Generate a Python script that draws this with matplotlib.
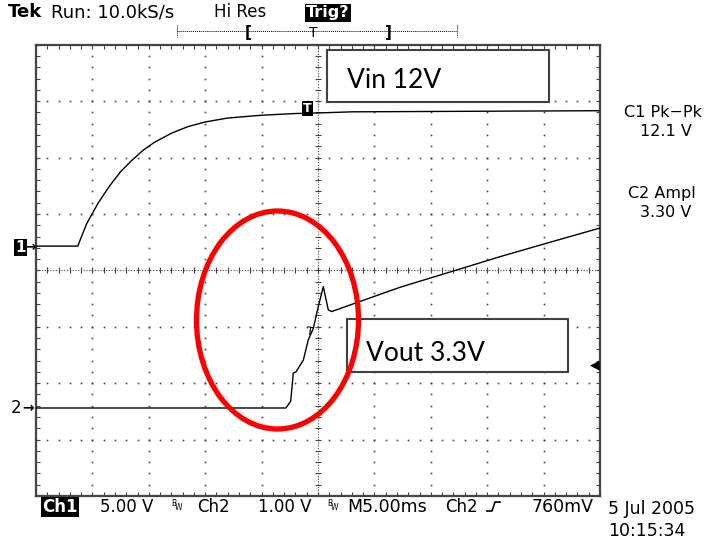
import numpy as np
import matplotlib
matplotlib.use('Agg')
import matplotlib.pyplot as plt
from matplotlib.patches import Rectangle, Ellipse
from matplotlib.lines import Line2D
from matplotlib.transforms import Affine2D

# Scope captures: time in ms, voltage in V
ch1_t = [-25.0, -21.3, -20.5, -19.5, -18.5, -17.5, -16.5, -15.5, -14.5, -13.0,
         -11.5, -10.0, -8.0, -5.0, -2.0, 0.0, 3.0, 25.0]
ch1_v = [0.0, 0.0, 2.0, 3.8, 5.3, 6.6, 7.6, 8.5, 9.2, 10.0,
         10.6, 11.0, 11.35, 11.6, 11.75, 11.8, 11.9, 12.0]
ch2_t = [-25.0, -2.84, -2.42, -2.19, -1.95, -1.30, -0.86, -0.42, 0.03, 0.47,
         0.91, 1.21, 7.27, 11.7, 16.1, 20.6, 25.0]
ch2_v = [0.0, 0.0, 0.12, 0.62, 0.64, 0.85, 1.21, 1.41, 1.80, 2.15,
         1.74, 1.71, 2.14, 2.41, 2.68, 2.94, 3.19]

ch1_scale, ch1_offset = 5.0, 0.43    # V/div, ground marker in div
ch2_scale, ch2_offset = 1.0, -2.44

W, H = 705, 543
fig = plt.figure(figsize=(W / 100, H / 100), dpi=100)
fig.patch.set_facecolor('white')
# pixel coords measured from the top-left corner
pix = Affine2D().scale(1 / 100, -1 / 100).translate(0, H / 100) + fig.dpi_scale_trans

ax = fig.add_axes([36 / W, (H - 496) / H, 564 / W, 451.3 / H])
ax.set_xlim(-25, 25)
ax.set_ylim(-4, 4)
gc = '#444444'
for s in ax.spines.values():
    s.set_color(gc)
    s.set_linewidth(1.6)
ax.set_xticks(np.arange(-25, 26, 5))
ax.set_xticks(np.arange(-25, 26, 1), minor=True)
ax.set_yticks(np.arange(-4, 5, 1))
ax.set_yticks(np.arange(-4, 4.01, 0.2), minor=True)
ax.tick_params(which='both', direction='in', length=3, width=0.8, color=gc,
               top=True, right=True, labelbottom=False, labelleft=False)

# graticule dots
minor_y = np.arange(-4, 4.01, 0.2)
minor_x = np.arange(-25, 25.01, 1)
for gx in [-20, -15, -10, -5, 5, 10, 15, 20]:
    ax.plot(np.full_like(minor_y, gx), minor_y, ls='none', marker='s', ms=1.2, color=gc, mew=0)
for gy in [-3, -2, -1, 1, 2, 3]:
    ax.plot(minor_x, np.full_like(minor_x, gy), ls='none', marker='s', ms=1.2, color=gc, mew=0)
# center cross
ax.axhline(0, color=gc, lw=0.8, ls=(0, (1, 1.5)))
ax.axvline(0, color=gc, lw=0.8, ls=(0, (1, 1.5)))
ax.plot(minor_x, np.zeros_like(minor_x), ls='none', marker='|', ms=5, color=gc, mew=0.8)
ax.plot(np.zeros_like(minor_y), minor_y, ls='none', marker='_', ms=5, color=gc, mew=0.8)

# traces
ax.plot(ch1_t, ch1_offset + np.array(ch1_v) / ch1_scale, color='black', lw=1.0, zorder=5)
ax.plot(ch2_t, ch2_offset + np.array(ch2_v) / ch2_scale, color='black', lw=1.0, zorder=5)

mono = 'DejaVu Sans'

def txt(x, y, s, size=12, **kw):
    kw.setdefault('ha', 'left')
    kw.setdefault('va', 'baseline')
    return fig.text(x, y, s, transform=pix, fontsize=size, family=mono, **kw)

def inv(x, y, s, size=12, **kw):
    return txt(x, y, s, size, color='white', fontweight='bold',
               bbox=dict(boxstyle='square,pad=0.08', fc='black', ec='none'), **kw)

# header
txt(8, 17.3, 'Tek', 13, fontweight='bold')
txt(51, 17.3, 'Run: 10.0kS/s', 13)
txt(214, 17.3, 'Hi Res', 12)
inv(306, 17.3, 'Trig?', 11.5)
fig.add_artist(Line2D([177, 457], [31, 31], transform=pix, color='black', lw=0.7, ls=(0, (1, 1))))
fig.add_artist(Line2D([177, 177], [25, 37], transform=pix, color='black', lw=0.7, ls=(0, (1, 1))))
fig.add_artist(Line2D([457, 457], [25, 37], transform=pix, color='black', lw=0.7, ls=(0, (1, 1))))
txt(248, 37, '[', 11, fontweight='bold', ha='center')
txt(313, 37, 'T', 10, ha='center')
txt(388, 37, ']', 11, fontweight='bold', ha='center')

# footer
inv(42, 512, 'Ch1', 12)
txt(100, 512, '5.00 V', 12)
txt(171, 506, 'B', 5.5)
txt(175, 510, 'W', 5.5)
txt(197, 512, 'Ch2', 12)
txt(258, 512, '1.00 V', 12)
txt(327, 506, 'B', 5.5)
txt(331, 510, 'W', 5.5)
txt(347, 512, 'M5.00ms', 12.5)
txt(445, 512, 'Ch2', 12)
fig.add_artist(Line2D([487, 492, 495, 500], [511, 511, 502, 502], transform=pix, color='black', lw=1.2))
txt(532, 512, '760mV', 12.5)
txt(608, 514, '5 Jul 2005', 12.5)
txt(608, 536, '10:15:34', 12.5)

# measurements
txt(624, 117, 'C1 Pk\u2212Pk', 11.5)
txt(640, 136, '12.1 V', 11.5)
txt(628, 198, 'C2 Ampl', 11.5)
txt(640, 217, '3.30 V', 11.5)

# channel markers
inv(15, 252, '1', 11)
txt(24, 251, '\u2192', 10, fontweight='bold')
txt(11, 413, '2', 12)
txt(22, 412, '\u2192', 10, fontweight='bold')
inv(303, 112, 'T', 9)
txt(310, 335, 'T', 8, ha='center', rotation=-10)
txt(600, 368, '\u25c0', 9, ha='right')

# annotations
fig.add_artist(Rectangle((327, 50), 222, 52, transform=pix, fc='white', ec='#404040', lw=1.5, zorder=3))
fig.add_artist(Rectangle((347, 319), 221, 53, transform=pix, fc='white', ec='#404040', lw=1.5, zorder=3))
fig.text(347, 88.3, 'Vin 12V', transform=pix, fontsize=19, family='Lato', zorder=4)
fig.text(366, 361, 'Vout 3.3V', transform=pix, fontsize=19, family='Lato', zorder=4)
fig.add_artist(Ellipse((277.5, 320), 162, 218, transform=pix, fc='none', ec='#ff0000', lw=3.8, zorder=5))

fig.savefig('out.png', dpi=100)
